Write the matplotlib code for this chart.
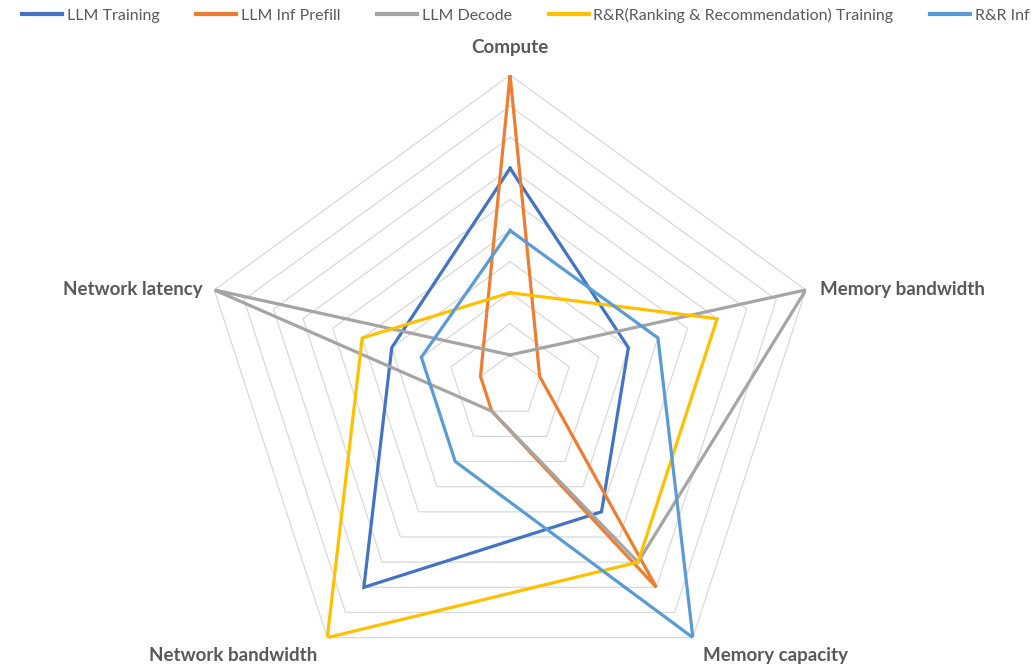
import numpy as np
import matplotlib.pyplot as plt
from matplotlib.lines import Line2D

axes_labels = ["Compute", "Memory bandwidth", "Memory capacity", "Network bandwidth", "Network latency"]
series_names = ["LLM Training", "LLM Inf Prefill", "LLM Decode",
                "R&R(Ranking & Recommendation) Training", "R&R Inf"]
llm_training = [7, 4, 5, 8, 4]
llm_prefill = [10, 1, 8, 1, 1]
llm_decode = [1, 10, 7, 1, 10]
rr_training = [3, 7, 7, 10, 5]
rr_inf = [5, 5, 10, 3, 3]
series_values = [llm_training, llm_prefill, llm_decode, rr_training, rr_inf]
colors = ["#4472C4", "#ED7D31", "#A5A5A5", "#FFC000", "#5B9BD5"]
grid_levels = np.arange(1, 11)

plt.rcParams['font.family'] = ['Lato', 'DejaVu Sans']

fig = plt.figure(figsize=(10.31, 6.67), dpi=100)
ax = fig.add_axes([0.1931, -0.045, 0.6033, 0.9325], projection='polar')
ax.set_theta_offset(np.pi / 2)
ax.set_theta_direction(-1)

n = len(axes_labels)
theta = np.linspace(0, 2 * np.pi, n, endpoint=False)
theta_closed = np.append(theta, theta[0])

# pentagon grid
for lvl in grid_levels:
    ax.plot(theta_closed, [lvl] * (n + 1), color="#D9D9D9", lw=0.9, zorder=1)

for vals, c in zip(series_values, colors):
    ax.plot(theta_closed, vals + vals[:1], color=c, lw=2.3, zorder=3,
            solid_joinstyle='miter')

ax.set_ylim(0, 10)
ax.set_xticks([])
ax.set_yticks([])
ax.grid(False)
ax.spines['polar'].set_visible(False)
ax.patch.set_alpha(0)

# category labels
label_style = dict(fontsize=13.5, fontweight='bold', color='#595959')
offsets = [(0, 28, 'center'), (14, 0, 'left'), (10, -18, 'left'),
           (-10, -18, 'right'), (-12, 0, 'right')]
for t, lab, (dx, dy, ha) in zip(theta, axes_labels, offsets):
    ax.annotate(lab, xy=(t, 10), xytext=(dx, dy), textcoords='offset pixels',
                ha=ha, va='center', **label_style)

handles = [Line2D([0], [0], color=c, lw=3) for c in colors]
fig.legend(handles, series_names, loc='upper center', bbox_to_anchor=(0.51, 1.01),
           ncol=5, frameon=False, fontsize=11.5, handlelength=2.5,
           handletextpad=0.3, columnspacing=2.3, labelcolor='#595959')

fig.savefig("out.png", dpi=100)
